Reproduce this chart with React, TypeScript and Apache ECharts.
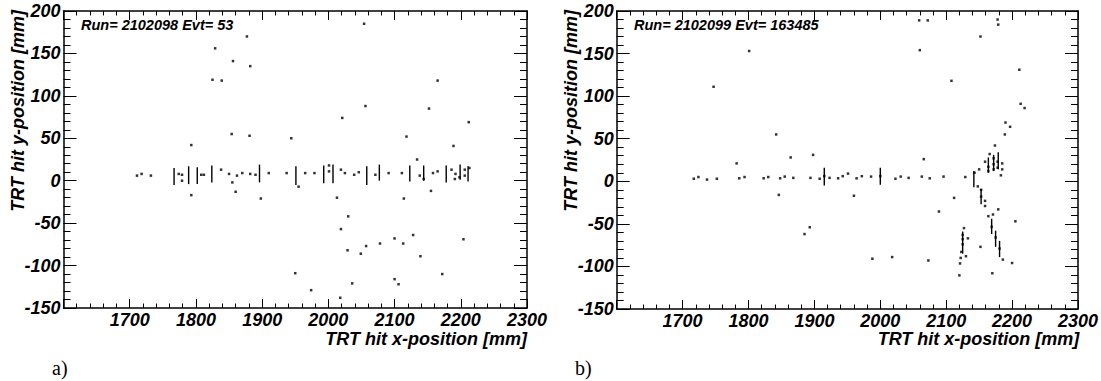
import React, { useEffect, useRef } from "react";
import * as echarts from "echarts";

// ---------- data ----------
const xTicks = [1600, 1700, 1800, 1900, 2000, 2100, 2200, 2300];
const yTicks = [-150, -100, -50, 0, 50, 100, 150, 200];

const runTextA = "Run= 2102098 Evt= 53";
const runTextB = "Run= 2102099 Evt= 163485";

// panel a: isolated hits [x, y]
const aPoints: number[][] = [
  [1877, 170], [1829, 156], [1856, 141], [1882, 135], [1825, 119], [1839, 118],
  [2021, 74], [1854, 55], [1881, 53], [1944, 50], [1793, 42],
  [2054, 185], [2165, 118], [2056, 88], [2152, 85], [2212, 69], [2118, 52], [2189, 41], [2134, 25],
  [1711, 6], [1718, 8], [1732, 6],
  [1774, 8], [1779, 7], [1779, 0], [1808, 7], [1812, 7], [1838, 13], [1850, 8], [1855, -2],
  [1862, 6], [1870, 9], [1882, 8], [1890, 7], [1910, 9], [1937, 9], [1965, 9], [1979, 9],
  [2001, 18], [2001, 11], [2019, 13], [2025, 9],
  [2039, 7], [2046, 10], [2071, 7], [2091, 9], [2111, 9], [2138, 6], [2144, 2], [2158, 9],
  [2165, 11], [2186, 13], [2192, 8], [2191, 2], [2198, 4], [2206, 13], [2206, 6], [2213, 15],
  [1793, -17], [1860, -13], [1955, -7], [1898, -21], [2013, -20], [2019, -57],
  [1950, -109], [1974, -129], [2018, -138],
  [2155, -12], [2114, -21], [2030, -42], [2128, -64], [2100, -68], [2204, -69], [2078, -74],
  [2113, -74], [2057, -77], [2029, -82], [2049, -86], [2139, -89], [2172, -110], [2036, -121],
  [2100, -116], [2106, -122],
];

// panel a: straw segments [x, yLow, yHigh]
const aSegments: number[][] = [
  [1767, -5, 15], [1789, -4, 17], [1802, -4, 16], [1824, -2, 18], [1896, -2, 19],
  [1951, -5, 17], [1993, -3, 18], [2007, -3, 19],
  [2058, -5, 17], [2077, 0, 19], [2123, -1, 18], [2144, 0, 18], [2178, -2, 18],
  [2199, 1, 19], [2211, -1, 17],
];

// panel b: isolated hits [x, y]
const bPoints: number[][] = [
  [1801, 153], [1747, 111], [1842, 55], [1898, 31], [1864, 28], [1782, 21],
  [1717, 3], [1724, 5], [1737, 2], [1752, 3], [1786, 3.5], [1794, 5], [1823, 3.5], [1830, 5],
  [1848, 3.5], [1855, 5.5], [1868, 4], [1894, 4], [1908, 3], [1915, 6], [1923, 4], [1936, 3.5],
  [1943, 6], [1951, 9], [1964, 3.5], [1972, 6], [1986, 5.5], [2000, 6],
  [1846, -16], [1960, -17], [1893, -54], [1885, -62], [1988, -91],
  [2059, 189], [2072, 189], [2178, 190], [2179, 184], [2152, 170], [2060, 154], [2211, 131],
  [2108, 118], [2213, 91], [2219, 86], [2190, 69], [2197, 64], [2189, 55], [2174, 42],
  [2066, 26], [2166, 32], [2159, 23], [2185, 21], [2150, 14], [2183, 7],
  [2164, 17], [2164, 12], [2172, 27], [2172, 20], [2172, 14], [2178, 23], [2178, 16], [2185, 14],
  [2023, 3], [2031, 5.5], [2043, 4], [2063, 5.5], [2075, 3.5], [2096, 5.5], [2129, 5],
  [2143, 10], [2148, -6], [2153, -10], [2153, -18], [2159, -23], [2159, -29], [2112, -19.5],
  [2089, -35.5], [2164, -41], [2171, -39], [2179, -33], [2205, -47], [2169, -53.5],
  [2175, -66], [2181, -79], [2186, -92], [2200, -96], [2152, -77], [2170, -108],
  [2127, -55], [2133, -67], [2125, -63], [2125, -68], [2125, -74], [2123, -83], [2130, -88],
  [2122, -90], [2121, -96.5], [2120, -110.5],
  [2018, -89], [2073, -93],
];

// panel b: straw segments [x, yLow, yHigh]
const bSegments: number[][] = [
  [1915, -5, 16], [2000, -4, 16],
  [2142, -7, 12], [2153, -27, -9], [2164, 10, 28], [2172, 12, 31], [2179, 14, 34],
  [2169, -62, -44], [2175, -77, -58], [2181, -89, -70], [2125, -85, -59],
];

// ---------- styles ----------
const FONT = "Liberation Sans";
const labelStyle = {
  fontFamily: FONT,
  fontStyle: "italic" as const,
  fontWeight: "bold" as const,
  fontSize: 18,
  color: "#000",
};

function xAxisCfg(gridIndex: number, top: boolean) {
  return {
    type: "value",
    gridIndex,
    position: top ? "top" : "bottom",
    min: xTicks[0],
    max: xTicks[xTicks.length - 1],
    interval: xTicks[1] - xTicks[0],
    splitLine: { show: false },
    axisLine: { show: true, onZero: false, lineStyle: { color: "#000", width: 1.5 } },
    axisTick: { show: true, inside: true, length: 9, lineStyle: { color: "#000", width: 1 } },
    minorTick: { show: true, splitNumber: 5, length: 4.5, lineStyle: { color: "#000", width: 1 } },
    axisLabel: {
      show: !top,
      margin: 3,
      hideOverlap: false,
      showMinLabel: true,
      showMaxLabel: true,
      formatter: (v: number) => (v === xTicks[0] ? "" : String(v)),
      ...labelStyle,
    },
  };
}

function yAxisCfg(gridIndex: number, right: boolean) {
  return {
    type: "value",
    gridIndex,
    position: right ? "right" : "left",
    min: yTicks[0],
    max: yTicks[yTicks.length - 1],
    interval: yTicks[1] - yTicks[0],
    splitLine: { show: false },
    axisLine: { show: true, onZero: false, lineStyle: { color: "#000", width: 1.5 } },
    axisTick: { show: true, inside: true, length: 13, lineStyle: { color: "#000", width: 1 } },
    minorTick: { show: true, splitNumber: 5, length: 7, lineStyle: { color: "#000", width: 1 } },
    axisLabel: {
      show: !right,
      margin: 3,
      hideOverlap: false,
      showMinLabel: true,
      showMaxLabel: true,
      ...labelStyle,
    },
  };
}

const segRender = (params: any, api: any) => {
  const p1 = api.coord([api.value(0), api.value(1)]);
  const p2 = api.coord([api.value(0), api.value(2)]);
  return {
    type: "line",
    shape: { x1: p1[0], y1: p1[1], x2: p2[0], y2: p2[1] },
    style: { stroke: "#000", lineWidth: 1.4 },
  };
};

function textEl(text: string, x: number, y: number, opts: any = {}) {
  return {
    type: "text",
    x,
    y,
    rotation: opts.rotation || 0,
    style: {
      text,
      fill: "#000",
      fontFamily: opts.fontFamily || FONT,
      fontStyle: opts.fontStyle || "italic",
      fontWeight: opts.fontWeight || "bold",
      fontSize: opts.fontSize || 18,
      align: opts.align || "left",
      verticalAlign: opts.verticalAlign || "middle",
    },
  };
}

export default function App() {
  const ref = useRef<HTMLDivElement>(null);
  useEffect(() => {
    if (!ref.current) return;
    const chart = echarts.init(ref.current, undefined, { renderer: "svg" });
    const gA = { left: 63.5, top: 11, width: 463.5, height: 297 };
    const gB = { left: 616.7, top: 11, width: 462.6, height: 298 };
    chart.setOption({
      animation: false,
      backgroundColor: "#fff",
      grid: [gA, gB],
      xAxis: [xAxisCfg(0, false), xAxisCfg(0, true), xAxisCfg(1, false), xAxisCfg(1, true)],
      yAxis: [yAxisCfg(0, false), yAxisCfg(0, true), yAxisCfg(1, false), yAxisCfg(1, true)],
      series: [
        {
          type: "scatter", xAxisIndex: 0, yAxisIndex: 0, data: aPoints,
          symbol: "rect", symbolSize: 2.5, itemStyle: { color: "#000" }, silent: true,
        },
        {
          type: "custom", xAxisIndex: 0, yAxisIndex: 0, data: aSegments,
          encode: { x: 0, y: [1, 2] }, renderItem: segRender, silent: true,
        },
        {
          type: "scatter", xAxisIndex: 2, yAxisIndex: 2, data: bPoints,
          symbol: "rect", symbolSize: 2.5, itemStyle: { color: "#000" }, silent: true,
        },
        {
          type: "custom", xAxisIndex: 2, yAxisIndex: 2, data: bSegments,
          encode: { x: 0, y: [1, 2] }, renderItem: segRender, silent: true,
        },
      ],
      graphic: [
        textEl(runTextA, 81, 25, { fontSize: 14.5 }),
        textEl(runTextB, 634, 25, { fontSize: 14.5 }),
        textEl("TRT hit x-position [mm]", gA.left + gA.width, 339, { align: "right" }),
        textEl("TRT hit x-position [mm]", gB.left + gB.width, 339, { align: "right" }),
        textEl("TRT hit y-position [mm]", 18, 10, { align: "right", rotation: Math.PI / 2 }),
        textEl("TRT hit y-position [mm]", 571, 10, { align: "right", rotation: Math.PI / 2 }),
        textEl("a)", 52, 368, { fontFamily: "Liberation Serif", fontStyle: "normal", fontWeight: "normal", fontSize: 20 }),
        textEl("b)", 575, 368, { fontFamily: "Liberation Serif", fontStyle: "normal", fontWeight: "normal", fontSize: 20 }),
      ],
    });
    return () => chart.dispose();
  }, []);
  return (
    <div
      ref={ref}
      style={{ position: "absolute", left: 0, top: 0, width: 1101, height: 381 }}
    />
  );
}
